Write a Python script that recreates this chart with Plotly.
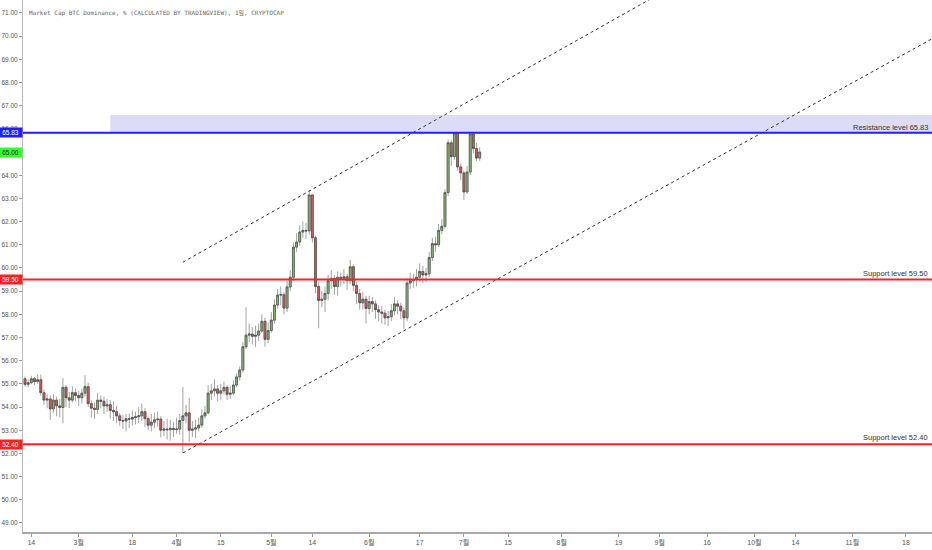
import pandas as pd
import plotly.graph_objects as go

# daily candles from 2019-02-12, open of each day = previous close
start_date = "2019-02-12"
first_open = 55.22

closes = [54.98, 55.05, 55.22, 55.10, 55.18, 54.62, 54.30, 54.35, 53.92, 54.30,
          54.05, 53.98, 54.85, 54.40, 54.30, 54.62, 54.50, 54.40, 54.60, 54.88,
          54.15, 53.95, 53.90, 54.30, 54.25, 54.05, 54.10, 53.85, 53.80, 53.62,
          53.42, 53.40, 53.50, 53.48, 53.55, 53.58, 53.62, 53.80, 53.50, 53.22,
          53.35, 53.45, 53.48, 53.00, 53.05, 53.02, 53.08, 53.03, 53.05, 53.42,
          53.62, 53.75, 53.00, 53.05, 53.10, 53.22, 53.62, 53.75, 54.60, 54.70,
          54.78, 54.60, 54.70, 54.85, 54.55, 54.60, 54.95, 55.30, 55.60, 56.60,
          57.10, 57.15, 57.05, 57.10, 57.28, 57.70, 56.92, 57.30, 57.75, 58.40,
          58.83, 58.85, 58.27, 59.18, 59.60, 60.90, 61.12, 61.55, 61.62, 61.60,
          63.15, 61.30, 59.20, 58.60, 58.65, 58.90, 59.45, 59.55, 59.20, 59.60,
          59.55, 59.62, 59.45, 60.05, 59.25, 58.90, 58.50, 58.65, 58.25, 58.55,
          58.45, 58.20, 58.10, 58.05, 57.85, 57.90, 58.15, 58.45, 58.35, 58.15,
          57.85, 59.35, 59.45, 59.50, 59.60, 59.85, 59.70, 59.75, 60.45, 61.05,
          61.00, 61.62, 61.80, 63.25, 65.40, 64.80, 65.83, 64.36, 64.10, 63.28,
          64.14, 65.78, 65.15, 64.74, 65.00]

highs = [55.32, 55.20, 55.35, 55.30, 55.40, 55.40, 54.75, 54.55, 54.50, 54.55,
         54.45, 54.35, 55.25, 54.95, 54.65, 54.90, 54.80, 54.70, 54.80, 55.38,
         55.05, 54.30, 54.20, 54.60, 54.50, 54.45, 54.35, 54.30, 54.25, 54.05,
         53.75, 53.65, 53.70, 53.72, 53.85, 53.80, 54.00, 54.15, 53.95, 53.60,
         53.70, 53.75, 53.80, 53.60, 53.40, 53.50, 53.45, 53.35, 53.55, 53.70,
         54.87, 54.10, 54.40, 53.40, 53.45, 53.55, 53.90, 54.05, 54.95, 55.00,
         55.20, 54.95, 55.00, 55.10, 54.95, 54.90, 55.15, 55.45, 55.75, 56.80,
         58.30, 57.60, 57.45, 57.50, 57.60, 58.00, 57.85, 57.65, 58.10, 58.65,
         59.10, 59.20, 58.95, 59.45, 59.90, 61.10, 61.50, 61.85, 62.00, 61.95,
         63.37, 63.20, 61.40, 59.40, 59.00, 59.20, 59.70, 59.90, 59.70, 59.85,
         59.80, 59.95, 59.75, 60.35, 60.15, 59.40, 59.10, 58.95, 58.80, 58.80,
         58.75, 58.60, 58.40, 58.35, 58.20, 58.15, 58.45, 58.75, 58.60, 58.50,
         58.30, 59.55, 59.80, 59.75, 59.95, 60.20, 60.10, 60.00, 60.70, 61.30,
         61.35, 61.90, 62.10, 63.40, 65.55, 65.50, 65.87, 65.85, 64.50, 64.20,
         64.40, 65.85, 65.80, 65.40, 65.20]

lows = [54.88, 54.85, 54.98, 54.95, 55.00, 54.50, 54.10, 53.95, 53.45, 53.75,
        53.60, 53.55, 53.30, 54.00, 53.95, 54.20, 54.25, 54.05, 54.15, 54.45,
        54.00, 53.55, 53.50, 53.70, 53.95, 53.70, 53.80, 53.50, 53.40, 53.30,
        53.20, 53.05, 52.95, 53.10, 53.20, 53.25, 53.30, 53.40, 53.15, 53.00,
        52.95, 53.10, 53.15, 52.70, 52.75, 52.60, 52.55, 52.70, 52.85, 52.80,
        52.02, 53.30, 52.50, 52.70, 52.66, 52.95, 53.10, 53.50, 53.70, 54.30,
        54.45, 54.25, 54.30, 54.55, 54.30, 54.35, 54.50, 54.85, 55.15, 55.50,
        56.50, 56.80, 56.70, 56.60, 56.85, 57.20, 56.60, 56.75, 57.20, 57.60,
        58.25, 58.40, 58.00, 58.10, 59.00, 59.45, 60.70, 60.95, 61.30, 61.25,
        61.45, 61.10, 58.90, 57.40, 58.30, 58.10, 58.60, 59.10, 58.85, 58.80,
        59.20, 59.30, 59.05, 59.30, 59.00, 58.45, 58.20, 58.20, 57.60, 58.00,
        58.10, 57.80, 57.70, 57.60, 57.55, 57.50, 57.70, 57.95, 58.00, 57.80,
        57.35, 57.70, 59.10, 59.15, 59.20, 59.40, 59.35, 59.40, 59.60, 60.30,
        60.70, 60.90, 61.45, 61.70, 63.10, 64.40, 64.65, 64.20, 63.80, 62.93,
        63.20, 64.00, 64.95, 64.60, 64.62]

# levels drawn on the chart
resistance = 65.83
supports = [59.50, 52.40]
zone_start = "2019-03-11"
zone_top = 66.60

# channel lines (two anchor points each)
upper_dates = ["2019-04-03", "2019-09-15"]
upper_prices = [60.25, 72.90]
lower_dates = ["2019-04-03", "2019-11-30"]
lower_prices = [52.02, 70.17]

tick_dates = ["2019-02-14", "2019-03-01", "2019-03-18", "2019-04-01", "2019-04-15",
              "2019-05-01", "2019-05-14", "2019-06-01", "2019-06-17", "2019-07-01",
              "2019-07-15", "2019-08-01", "2019-08-19", "2019-09-01", "2019-09-16",
              "2019-10-01", "2019-10-14", "2019-11-01", "2019-11-18"]
tick_text = ["14", "3월", "18", "4월", "15", "5월", "14", "6월", "17", "7월",
             "15", "8월", "19", "9월", "16", "10월", "14", "11월", "18"]

GREEN = "#86c172"
RED = "#e35a5a"
EDGE = "#4a4a4a"
WICK = "#a3a3a3"
FONT = "Liberation Sans, Noto Sans CJK KR, sans-serif"

dates = pd.date_range(start_date, periods=len(closes), freq="D")
opens = [first_open] + closes[:-1]
body_hi = [max(o, c) for o, c in zip(opens, closes)]
body_lo = [min(o, c) for o, c in zip(opens, closes)]

fig = go.Figure()

# full candles in grey = wicks
fig.add_trace(go.Candlestick(x=dates, open=opens, high=highs, low=lows, close=closes,
                             increasing=dict(line=dict(color=WICK, width=1), fillcolor=WICK),
                             decreasing=dict(line=dict(color=WICK, width=1), fillcolor=WICK),
                             hoverinfo="skip"))
# bodies on top
fig.add_trace(go.Candlestick(x=dates, open=opens, high=body_hi, low=body_lo, close=closes,
                             increasing=dict(line=dict(color=EDGE, width=0.7), fillcolor=GREEN),
                             decreasing=dict(line=dict(color=EDGE, width=0.7), fillcolor=RED),
                             hoverinfo="skip"))

for d, p in [(upper_dates, upper_prices), (lower_dates, lower_prices)]:
    fig.add_trace(go.Scatter(x=d, y=p, mode="lines", hoverinfo="skip",
                             line=dict(color="#333333", width=1, dash="3px,3px")))

fig.add_shape(type="rect", xref="x", yref="y", x0=zone_start, x1="2020-01-31",
              y0=resistance, y1=zone_top, fillcolor="#dcdcf7", line_width=0, layer="below")
fig.add_hline(y=resistance, line=dict(color="#1f1fff", width=2))
for s in supports:
    fig.add_hline(y=s, line=dict(color="#ff2020", width=2))

# right side texts
fig.add_annotation(xref="paper", yref="y", x=1, y=resistance, xanchor="right", yanchor="bottom",
                   xshift=-2, yshift=-1, text=f"Resistance level {resistance:.2f}", showarrow=False,
                   font=dict(family=FONT, size=7.5, color="#333333"))
for s in supports:
    fig.add_annotation(xref="paper", yref="y", x=1, y=s, xanchor="right", yanchor="bottom",
                       xshift=-2, yshift=0, text=f"Support level {s:.2f}", showarrow=False,
                       font=dict(family=FONT, size=7.5, color="#333333"))

# price labels on the axis
axis_labels = [(resistance, "#1f1fff", "white"), (closes[-1], "#33ff33", "#222222")]
axis_labels += [(s, "#ff2020", "white") for s in supports]
for val, bg, fg in axis_labels:
    fig.add_annotation(xref="paper", yref="y", x=0, y=val, xanchor="right", yanchor="middle",
                       text=f"{val:.2f}", showarrow=False, bgcolor=bg, borderpad=1, width=21,
                       font=dict(family=FONT, size=6.5, color=fg))

fig.add_annotation(xref="paper", yref="y", x=0, y=71.0, xanchor="left", yanchor="middle", xshift=4,
                   text="Market Cap BTC Dominance, % (CALCULATED BY TRADINGVIEW), 1일, CRYPTOCAP",
                   showarrow=False, font=dict(family="DejaVu Sans Mono, Noto Sans CJK KR", size=6, color="#666666"))

fig.update_layout(
    width=932, height=550,
    margin=dict(l=23, r=0, t=0, b=18),
    plot_bgcolor="white", paper_bgcolor="white",
    showlegend=False,
    boxgap=0.15,
    xaxis=dict(type="date", range=["2019-02-11 08:40", "2019-11-26 06:00"],
               rangeslider=dict(visible=False), tickvals=tick_dates, ticktext=tick_text,
               ticks="outside", ticklen=3, tickcolor="#999999", showline=True,
               linecolor="#aaaaaa", linewidth=2, showgrid=False, zeroline=False,
               tickfont=dict(family=FONT, size=7, color="#555555")),
    yaxis=dict(range=[48.61, 71.56], dtick=1, tick0=0, tickformat=".2f",
               ticks="outside", ticklen=3, tickcolor="#999999", showline=True,
               linecolor="#bbbbbb", linewidth=1, showgrid=False, zeroline=False,
               tickfont=dict(family=FONT, size=6.5, color="#555555")),
)

# drop the default page margin so the figure fills the window
fig.write_html("out.html", config={"displayModeBar": False},
               post_script="document.body.style.margin='0';")
